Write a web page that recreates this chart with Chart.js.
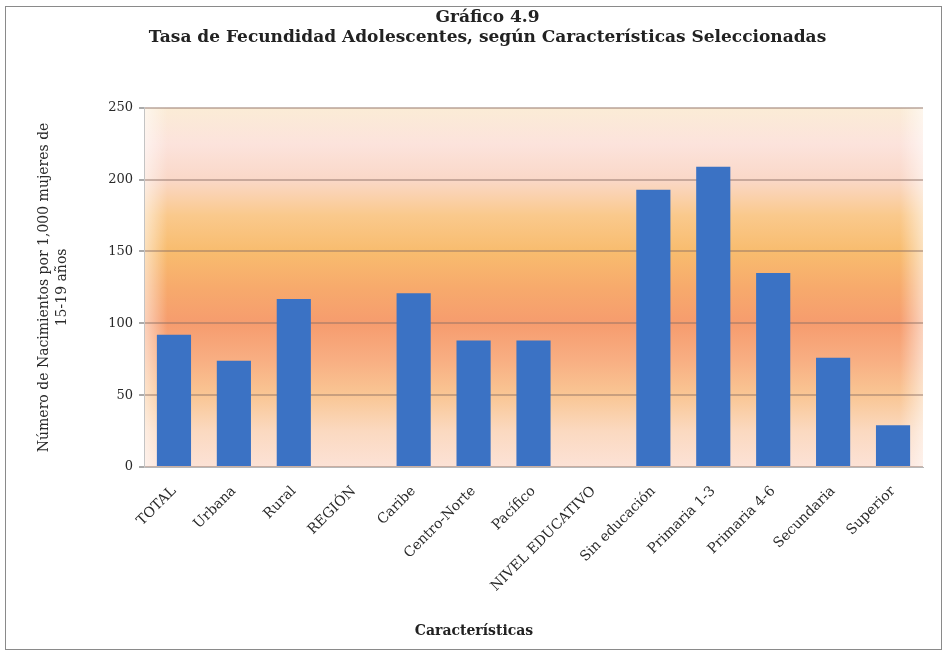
<!DOCTYPE html>
<html>
<head>
<meta charset="utf-8">
<script src="https://cdn.jsdelivr.net/npm/chart.js@4"></script>
<style>
  html, body { margin: 0; padding: 0; background: #fff; }
</style>
</head>
<body>
<canvas id="myChart" width="948" height="656"></canvas>
<script>
// data
const categories = ['TOTAL', 'Urbana', 'Rural', 'REGIÓN', 'Caribe', 'Centro-Norte', 'Pacífico',
  'NIVEL EDUCATIVO', 'Sin educación', 'Primaria 1-3', 'Primaria 4-6', 'Secundaria', 'Superior'];
const rates = [92, 74, 117, null, 121, 88, 88, null, 193, 209, 135, 76, 29];
const yTicks = [0, 50, 100, 150, 200, 250];
const xTitle = 'Características';

const serif = '"DejaVu Serif", "Liberation Serif", serif';
const padLeft = 52;

// orange plot background, outer frame, x axis title centred on the page
const decor = {
  id: 'decor',
  beforeDraw(chart) {
    const { ctx, chartArea: a } = chart;
    const y = chart.scales.y;
    const g = ctx.createLinearGradient(0, a.top, 0, a.bottom);
    const stop = (v, c) => g.addColorStop((y.getPixelForValue(v) - a.top) / (a.bottom - a.top), c);
    stop(250, '#fbecd6');
    stop(225, '#fce3dc');
    stop(200, '#fad8c8');
    stop(175, '#fac98c');
    stop(150, '#f8bc6e');
    stop(125, '#f7aa6c');
    stop(100, '#f69c6e');
    stop(75, '#f8ae82');
    stop(50, '#f9c694');
    stop(25, '#fbd9c0');
    stop(0, '#fce2d6');
    ctx.save();
    ctx.fillStyle = g;
    ctx.fillRect(a.left, a.top, a.right - a.left, a.bottom - a.top);
    // lighter edges
    const h = ctx.createLinearGradient(a.left, 0, a.right, 0);
    h.addColorStop(0, 'rgba(255,255,255,0.55)');
    h.addColorStop(0.03, 'rgba(255,255,255,0)');
    h.addColorStop(0.97, 'rgba(255,255,255,0)');
    h.addColorStop(1, 'rgba(255,255,255,0.55)');
    ctx.fillStyle = h;
    ctx.fillRect(a.left, a.top, a.right - a.left, a.bottom - a.top);
    ctx.restore();
  },
  afterDraw(chart) {
    const { ctx } = chart;
    ctx.save();
    ctx.strokeStyle = '#8a8a8a';
    ctx.lineWidth = 1;
    ctx.strokeRect(5.5, 6.5, 936, 643);
    ctx.fillStyle = '#222';
    ctx.font = 'bold 14px ' + serif;
    ctx.textAlign = 'center';
    ctx.textBaseline = 'middle';
    ctx.fillText(xTitle, 474, 631);
    ctx.restore();
  }
};

const ctx = document.getElementById('myChart');
const myChart = new Chart(ctx, {
  type: 'bar',
  data: {
    labels: categories,
    datasets: [{
      data: rates,
      backgroundColor: '#3b72c4',
      barPercentage: 0.57,
      categoryPercentage: 1
    }]
  },
  options: {
    responsive: false,
    animation: false,
    layout: { padding: { left: padLeft, right: 25, top: 0, bottom: 10 } },
    plugins: {
      legend: { display: false },
      tooltip: { enabled: false },
      title: {
        display: true,
        text: ['Gráfico 4.9', 'Tasa de Fecundidad Adolescentes, según Características Seleccionadas'],
        color: '#222',
        font: { family: serif, size: 17, weight: 'bold', lineHeight: 1.2 },
        padding: { top: 7, bottom: 60 }
      }
    },
    scales: {
      x: {
        grid: { display: false },
        border: { color: '#b8b8b8' },
        ticks: {
          color: '#2a2a2a',
          font: { family: serif, size: 14 },
          minRotation: 45,
          maxRotation: 45,
          autoSkip: false,
          padding: 8
        },
        afterFit(s) { s.height = 656 - 467 - 10; }
      },
      y: {
        min: 0,
        max: 250,
        afterBuildTicks(s) { s.ticks = yTicks.map(v => ({ value: v })); },
        grid: {
          color: 'rgba(140,110,100,0.45)',
          lineWidth: 2,
          tickLength: 5,
          tickColor: '#aaa'
        },
        border: { color: '#c4c4c4' },
        ticks: {
          color: '#2a2a2a',
          font: { family: serif, size: 13 },
          padding: 6
        },
        title: {
          display: true,
          text: ['Número de Nacimientos por 1,000 mujeres de', '15-19 años'],
          color: '#2a2a2a',
          font: { family: serif, size: 14, lineHeight: 1.25 },
          padding: { top: -16, bottom: 4 }
        },
        afterFit(s) { s.width = 144 - padLeft; }
      }
    }
  },
  plugins: [decor]
});
</script>
</body>
</html>
